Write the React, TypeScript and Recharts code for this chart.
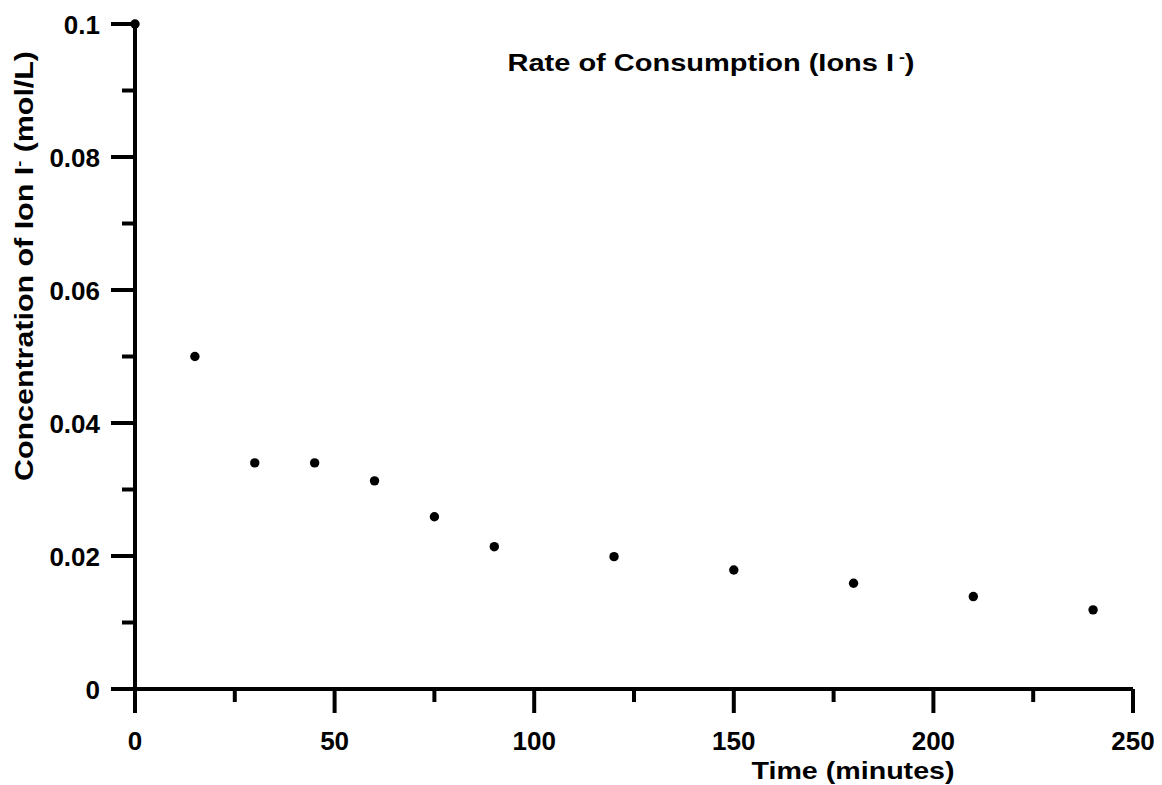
import React from "react";
import { Label, Scatter, ScatterChart, XAxis, YAxis, Customized } from "recharts";

const times = [0, 15, 30, 45, 60, 75, 90, 120, 150, 180, 210, 240];
const concentrations = [0.1, 0.05, 0.034, 0.034, 0.0313, 0.0259, 0.0214, 0.0199, 0.0179, 0.0159, 0.0139, 0.0119];
const xTicks = [0, 25, 50, 75, 100, 125, 150, 175, 200, 225, 250];
const xMajor = [0, 50, 100, 150, 200, 250];
const yTicks = [0, 0.01, 0.02, 0.03, 0.04, 0.05, 0.06, 0.07, 0.08, 0.09, 0.1];
const yMajor = [0, 0.02, 0.04, 0.06, 0.08, 0.1];

const data = times.map((t, i) => ({ t, c: concentrations[i] }));

const FONT = "'Liberation Sans', Arial, sans-serif";
const FS = 26;

const isMajor = (list: number[], v: number) => list.some((m) => Math.abs(m - v) < 1e-9);

function XTick(props: any) {
  const { x, y, payload } = props;
  const major = isMajor(xMajor, payload.value);
  return (
    <g>
      <line x1={x} x2={x} y1={y} y2={y + (major ? 24 : 13)} stroke="#000" strokeWidth={4} />
      {major && (
        <text x={x} y={y + 61} textAnchor="middle" fontFamily={FONT} fontWeight="bold" fontSize={FS} fill="#000">
          {payload.value}
        </text>
      )}
    </g>
  );
}

function YTick(props: any) {
  const { x, y, payload } = props;
  const major = isMajor(yMajor, payload.value);
  return (
    <g>
      <line x1={x} x2={x - (major ? 24 : 13)} y1={y} y2={y} stroke="#000" strokeWidth={4} />
      {major && (
        <text x={x - 35} y={y + 10} textAnchor="end" fontFamily={FONT} fontWeight="bold" fontSize={FS} fill="#000">
          {String(payload.value)}
        </text>
      )}
    </g>
  );
}

const Dot = (p: any) => <circle cx={p.cx} cy={p.cy} r={4.7} fill="#000" />;

export default function App() {
  return (
    <div style={{ position: "absolute", left: 0, top: 0, background: "#fff" }}>
      <ScatterChart width={1162} height={785} margin={{ top: 24, right: 29, bottom: 0, left: 0 }}>
        <XAxis
          type="number"
          dataKey="t"
          domain={[0, 250]}
          ticks={xTicks}
          interval={0}
          height={96}
          tickSize={0}
          tickMargin={0}
          tickLine={false}
          tick={<XTick />}
          axisLine={{ stroke: "#000", strokeWidth: 4 }}
        >
          <Label
            content={() => (
              <text
                x={853}
                y={779}
                textAnchor="middle"
                textLength={203}
                lengthAdjust="spacingAndGlyphs"
                fontFamily={FONT}
                fontWeight="bold"
                fontSize={24}
                fill="#000"
              >
                Time (minutes)
              </text>
            )}
          />
        </XAxis>
        <YAxis
          type="number"
          dataKey="c"
          domain={[0, 0.1]}
          ticks={yTicks}
          interval={0}
          width={135}
          tickSize={0}
          tickMargin={0}
          tickLine={false}
          tick={<YTick />}
          axisLine={{ stroke: "#000", strokeWidth: 4 }}
        >
          <Label
            content={() => (
              <text
                x={33}
                y={266}
                transform="rotate(-90 33 266)"
                textAnchor="middle"
                textLength={430}
                lengthAdjust="spacingAndGlyphs"
                fontFamily={FONT}
                fontWeight="bold"
                fontSize={25}
                fill="#000"
              >
                Concentration of Ion I
                <tspan dy={-9} fontSize={15}>-</tspan>
                <tspan dy={9}> (mol/L)</tspan>
              </text>
            )}
          />
        </YAxis>
        <Scatter data={data} shape={<Dot />} isAnimationActive={false} />
        <Customized
          component={() => (
            <text
              x={711}
              y={71}
              textAnchor="middle"
              textLength={407}
              lengthAdjust="spacingAndGlyphs"
              fontFamily={FONT}
              fontWeight="bold"
              fontSize={23}
              fill="#000"
            >
              Rate of Consumption (Ions I
              <tspan dy={-9} fontSize={14}> -</tspan>
              <tspan dy={9}>)</tspan>
            </text>
          )}
        />
      </ScatterChart>
    </div>
  );
}
